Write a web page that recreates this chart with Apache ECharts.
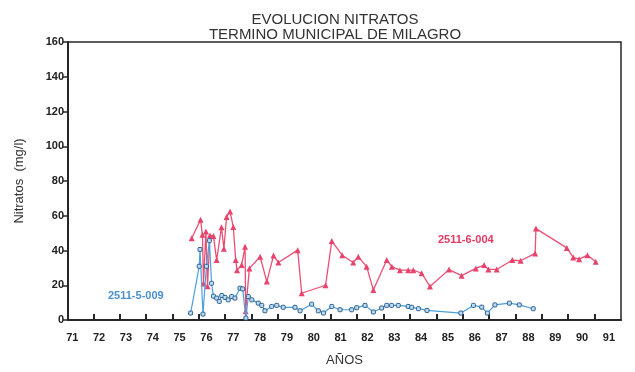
<!DOCTYPE html>
<html><head><meta charset="utf-8">
<script src="https://cdn.jsdelivr.net/npm/echarts@6/dist/echarts.min.js"></script>
<style>html,body{margin:0;padding:0;background:#fff}#c{width:635px;height:372px}</style>
</head><body><div id="c"></div>
<script>
// ---- data ----
var redYears = [75.45,75.78,75.85,75.89,75.98,76.04,76.13,76.26,76.38,76.56,76.65,76.75,76.88,77.00,77.09,77.14,77.31,77.44,77.46,77.60,78.00,78.25,78.50,78.68,79.40,79.55,80.44,80.67,81.06,81.47,81.66,81.97,82.22,82.72,82.91,83.21,83.52,83.71,84.02,84.33,85.04,85.51,86.04,86.35,86.51,86.82,87.40,87.71,88.25,88.28,89.43,89.67,89.89,90.20,90.51];
var redValues = [47.1,57.7,49.1,21.0,50.9,19.4,48.6,48.4,34.5,53.4,41.0,59.3,62.5,53.5,34.5,28.6,31.6,42.1,5.1,29.7,36.4,22.1,37.1,33.1,40.2,15.4,20.0,45.4,37.3,33.1,36.4,30.7,17.3,34.5,30.7,28.7,28.7,28.7,26.9,19.3,29.0,25.5,29.7,31.6,29.1,29.1,34.5,34.1,38.3,52.6,41.5,36.0,35.0,37.3,33.5];
var blueYears = [75.41,75.73,75.76,75.87,76.00,76.11,76.19,76.26,76.38,76.48,76.57,76.69,76.81,76.94,77.06,77.25,77.35,77.47,77.56,77.69,77.93,78.06,78.18,78.43,78.62,78.86,79.30,79.49,79.92,80.17,80.36,80.67,80.98,81.41,81.60,81.91,82.22,82.53,82.72,82.90,83.15,83.52,83.65,83.90,84.22,85.48,85.95,86.26,86.47,86.75,87.29,87.66,88.18];
var blueValues = [4.0,30.9,40.6,3.4,30.9,45.7,21.1,13.7,12.6,10.7,14.1,13.0,11.6,13.5,12.6,18.3,17.9,1.1,13.5,11.6,9.7,8.4,5.3,7.8,8.4,7.3,7.3,5.3,9.1,5.3,4.0,7.8,5.9,5.9,7.1,8.4,4.6,6.9,8.4,8.4,8.4,7.8,7.3,6.5,5.5,4.0,8.4,7.4,4.0,8.7,9.7,8.7,6.5];
var yearLabels = [71,72,73,74,75,76,77,78,79,80,81,82,83,84,85,86,87,88,89,90,91];
var redName = '2511-6-004';
var blueName = '2511-5-009';

function zip(a,b){var r=[];for(var i=0;i<a.length;i++)r.push([a[i],b[i]]);return r;}
// tick marks of the scanned axis (layout)
var tickVals=[];for(var k=0;k<20;k++)tickVals.push(+(71.783+k*0.9832).toFixed(3));

var chart = echarts.init(document.getElementById('c'));
var dark='#262626';
chart.setOption({
  animation:false,
  backgroundColor:'#fff',
  title:{text:'EVOLUCION NITRATOS\nTERMINO MUNICIPAL DE MILAGRO',left:330,top:7,textAlign:'center',
    textStyle:{fontFamily:'Liberation Sans',fontSize:15,fontWeight:'normal',color:'#333',lineHeight:15}},
  grid:{left:68,right:14,top:42,bottom:50,show:true,borderColor:dark,borderWidth:1.5,backgroundColor:'transparent'},
  xAxis:{type:'value',min:70.84,max:91.45,
    name:'AÑOS',nameLocation:'middle',nameGap:34,
    nameTextStyle:{fontFamily:'Liberation Sans',fontSize:13,color:'#333'},
    axisLine:{show:true,lineStyle:{color:dark,width:2}},
    axisTick:{show:true,inside:true,length:6,customValues:tickVals,lineStyle:{color:dark,width:2}},
    axisLabel:{customValues:yearLabels,margin:12,fontFamily:'Liberation Sans',fontWeight:'bold',fontSize:11,color:'#222'},
    splitLine:{show:false}},
  yAxis:{type:'value',min:0,max:160,interval:20,
    name:'Nitratos  (mg/l)',nameLocation:'middle',nameGap:42,
    nameTextStyle:{fontFamily:'Liberation Sans',fontSize:13,color:'#333'},
    axisLine:{show:true,lineStyle:{color:dark,width:2}},
    axisTick:{show:true,length:5,lineStyle:{color:dark,width:1.5}},
    axisLabel:{margin:4,fontFamily:'Liberation Sans',fontWeight:'bold',fontSize:11,color:'#222'},
    splitLine:{show:false}},
  series:[
    {name:redName,type:'line',data:zip(redYears,redValues),symbol:'triangle',symbolSize:6,
     lineStyle:{color:'#ec4f74',width:1.3},itemStyle:{color:'#e8436b'},z:2},
    {name:blueName,type:'line',data:zip(blueYears,blueValues),symbol:'roundRect',symbolSize:4,
     lineStyle:{color:'#4aa0de',width:1.2},itemStyle:{color:'#bcdcf2',borderColor:'#2a5d8f',borderWidth:1},z:3}
  ],
  graphic:[
    {type:'text',left:438,top:234,style:{text:redName,fill:'#e23a62',font:'bold 11px "Liberation Sans"'}},
    {type:'text',left:108,top:290,style:{text:blueName,fill:'#4a90d0',font:'bold 11px "Liberation Sans"'}}
  ]
});
</script></body></html>
